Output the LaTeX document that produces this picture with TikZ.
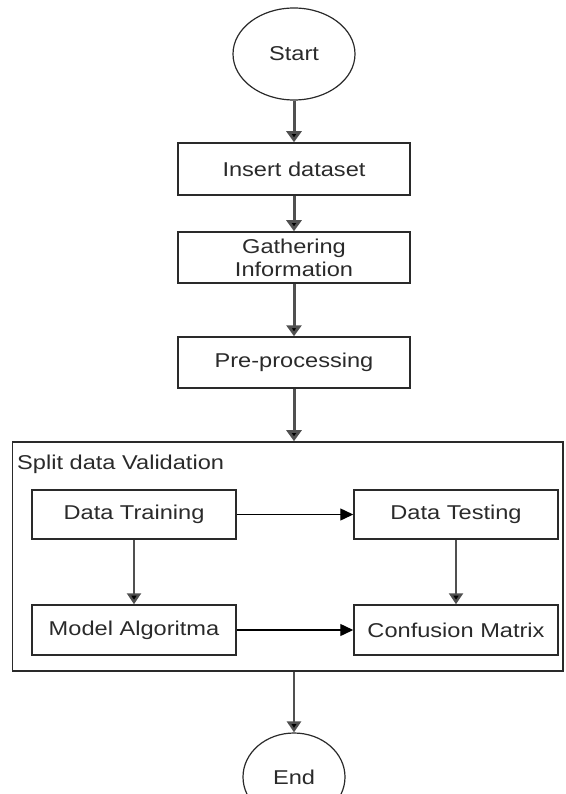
\documentclass[tikz,border=0pt]{standalone}
\usepackage{fontspec}
\setmainfont{Liberation Sans}[FakeStretch=1.18]
\usetikzlibrary{arrows.meta,shapes.geometric}
\definecolor{ink}{HTML}{2A2A2A}
\definecolor{shaft}{HTML}{505050}
\begin{document}
\begin{tikzpicture}[x=1pt,y=-1pt,
  font=\fontsize{20}{23}\selectfont,
  every node/.style={text=ink},
  procbox/.style={draw=ink,line width=1.5pt,rectangle,minimum width=232pt,minimum height=51pt,align=center,inner sep=0pt},
  subbox/.style={draw=ink,line width=1.5pt,rectangle,minimum width=204pt,minimum height=49pt,inner sep=0pt},
  terminal/.style={draw=ink,line width=1.2pt,ellipse,inner sep=0pt},
  mainflow/.style={draw=shaft,line width=3pt,-{Triangle[width=15pt,length=11pt,fill=black]}},
  sideflow/.style={draw=shaft,line width=2.4pt,-{Triangle[width=14pt,length=11pt,fill=black]}},
  crossflow/.style={draw=black,line width=1.4pt,-{Triangle[width=12pt,length=13pt,fill=black]}}]
\useasboundingbox (0,0) rectangle (565,794);
\clip (0,0) rectangle (565,794);

% main column
\node[terminal,minimum width=122pt,minimum height=92pt] (start) at (294,54) {Start};
\node[procbox,minimum height=52pt] (insert) at (294,169) {Insert dataset};
\node[procbox] (gather) at (294,257.5) {Gathering\\Information};
\node[procbox] (pre) at (294,362.5) {Pre-processing};

% validation group
\node[draw=ink,line width=1.6pt,rectangle,minimum width=550.5pt,minimum height=229pt,inner sep=0pt] (split) at (287.75,556.5) {};
\node[anchor=west,inner sep=0pt] (title) at (17,464) {Split data Validation};
\node[subbox] (train) at (134,514.5) {Data Training};
\node[subbox] (test) at (456,514.5) {Data Testing};
\node[subbox,minimum height=50pt] (model) at (134,630) {Model Algoritma};
\node[subbox,minimum height=50pt] (conf) at (456,630) {Confusion Matrix};

\node[terminal,minimum width=102pt,minimum height=88pt] (end) at (294,777) {End};

% connectors
\draw[mainflow] (start) -- (insert);
\draw[mainflow] (insert) -- (gather);
\draw[mainflow] (gather) -- (pre);
\draw[mainflow] (pre.south) -- (pre.south |- split.north);
\draw[crossflow] (train) -- (test);
\draw[sideflow] (train) -- (model);
\draw[sideflow] (test) -- (conf);
\draw[crossflow] (model) -- (conf);
\draw[sideflow] (split.south -| end.north) -- (end.north);
\end{tikzpicture}
\end{document}
